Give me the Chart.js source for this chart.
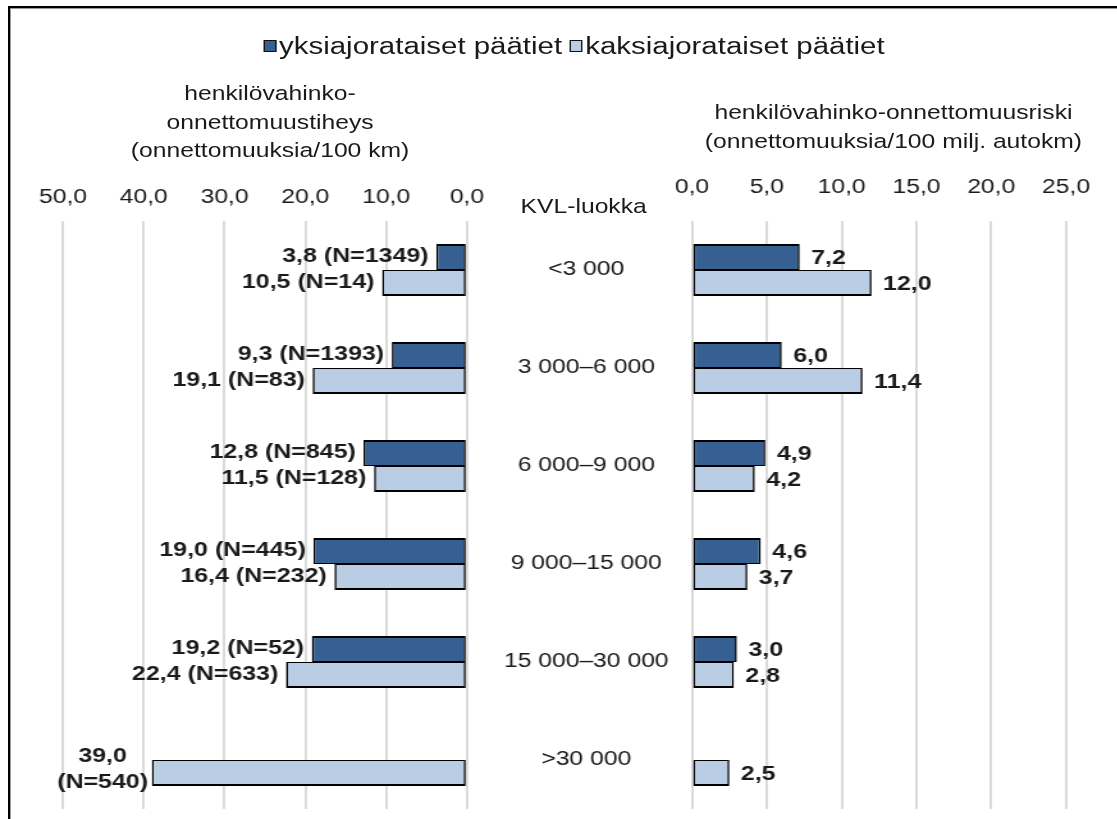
<!DOCTYPE html>
<html lang="fi">
<head>
<meta charset="utf-8">
<title>Henkilövahinko-onnettomuudet KVL-luokittain</title>
<script src="https://cdn.jsdelivr.net/npm/chart.js@4.4.1/dist/chart.umd.min.js"></script>
<style>
  html, body { margin: 0; padding: 0; background: #fff; }
  body {
    width: 1117px; height: 819px; overflow: hidden; position: relative;
    font-family: "Liberation Sans", Arial, sans-serif; color: #1a1a1a;
  }
  #frame {
    position: absolute; left: 8px; top: 6px; width: 1107px; height: 900px;
    border-top: 2px solid #000; border-left: 2px solid #000; border-right: 1px solid #8c8c8c;
    box-shadow: inset 1px 1px 0 #9a9a9a;
  }
  /* the whole figure is laid out on a 873px wide stage and widened horizontally */
  #stage {
    position: absolute; left: 0; top: 0; width: 873px; height: 819px;
    transform: scaleX(1.28); transform-origin: 0 0;
  }
  #stage canvas { position: absolute; top: 0; }
  #cLeft { left: 0; }
  #cRight { left: 380px; }
  .legend {
    position: absolute; left: 206px; top: 32px; display: flex; align-items: center;
    font-size: 23px; line-height: 28px; white-space: nowrap;
  }
  .sw { display: inline-block; width: 7.5px; height: 10px; border: 1.5px solid #111; margin-right: 2.5px; }
  .sw.dark { background: #376092; }
  .sw.light { background: #b9cde5; margin-left: 6px; }
  .ttl { position: absolute; text-align: center; font-size: 19.3px; line-height: 28.5px; white-space: nowrap; }
  #ttlLeft { left: 61px; width: 300px; top: 80px; }
  #ttlRight { left: 518px; width: 360px; top: 99px; }
  #kvl { position: absolute; left: 406px; width: 100px; text-align: center; top: 193px; font-size: 19.3px; line-height: 28px; }
</style>
</head>
<body>
<div id="frame"></div>
<div id="stage">
  <div class="legend">
    <span class="sw dark"></span><span>yksiajorataiset päätiet</span>
    <span class="sw light"></span><span>kaksiajorataiset päätiet</span>
  </div>
  <div class="ttl" id="ttlLeft">henkilövahinko-<br>onnettomuustiheys<br>(onnettomuuksia/100 km)</div>
  <div class="ttl" id="ttlRight">henkilövahinko-onnettomuusriski<br>(onnettomuuksia/100 milj. autokm)</div>
  <div id="kvl">KVL-luokka</div>
  <canvas id="cLeft" width="380" height="819"></canvas>
  <canvas id="cRight" width="493" height="819"></canvas>
</div>
<script>
// KVL classes (average daily traffic)
const categories = ['<3 000', '3 000–6 000', '6 000–9 000', '9 000–15 000', '15 000–30 000', '>30 000'];
const seriesNames = ['yksiajorataiset päätiet', 'kaksiajorataiset päätiet'];

// accident density (accidents / 100 km)
const densitySingle = [3.8, 9.3, 12.8, 19.0, 19.2, null];
const densityDual   = [10.5, 19.1, 11.5, 16.4, 22.4, 39.0];
// number of accidents behind each density value
const countSingle = [1349, 1393, 845, 445, 52, null];
const countDual   = [14, 83, 128, 232, 633, 540];

// accident risk (accidents / 100 million vehicle-km)
const riskSingle = [7.2, 6.0, 4.9, 4.6, 3.0, null];
const riskDual   = [12.0, 11.4, 4.2, 3.7, 2.8, 2.5];

// axis ticks
const densityTicks = [0, 10, 20, 30, 40, 50];
const riskTicks = [0, 5, 10, 15, 20, 25];

const FONT = '"Liberation Sans", Arial, sans-serif';
const DARK = '#376092';
const LIGHT = '#b9cde5';
const INK = '#1a1a1a';

Chart.defaults.font.family = FONT;
Chart.defaults.color = INK;

const fmt = v => v.toFixed(1).replace('.', ',');

// value labels next to the bar ends
const barLabels = {
  id: 'barLabels',
  afterDatasetsDraw(chart, args, opts) {
    const ctx = chart.ctx;
    ctx.save();
    ctx.font = 'bold 19.5px ' + FONT;
    ctx.fillStyle = INK;
    ctx.textBaseline = 'middle';
    chart.data.datasets.forEach((ds, di) => {
      const meta = chart.getDatasetMeta(di);
      meta.data.forEach((bar, i) => {
        const v = ds.data[i];
        if (v == null) return;
        const parts = opts.parts(di, i, v);
        if (opts.side === 'left') {
          const right = bar.x - 6;
          const text = parts.join(' ');
          const w = ctx.measureText(text).width;
          if (right - w < 12) {
            // not enough room: stack value and count
            const r2 = bar.x - 3;
            const mw = Math.max(...parts.map(p => ctx.measureText(p).width));
            ctx.textAlign = 'center';
            ctx.fillText(parts[0], r2 - mw / 2, bar.y - 16);
            ctx.fillText(parts[1], r2 - mw / 2, bar.y + 10);
          } else {
            ctx.textAlign = 'right';
            ctx.fillText(text, right, bar.y);
          }
        } else {
          ctx.textAlign = 'left';
          ctx.fillText(parts.join(' '), bar.x + 9, bar.y + 2);
        }
      });
    });
    ctx.restore();
  }
};

// KVL class names in the gap between the two panels
const classLabels = {
  id: 'classLabels',
  afterDraw(chart, args, opts) {
    if (!opts.show) return;
    const ctx = chart.ctx;
    const y = chart.scales.y;
    ctx.save();
    ctx.font = '19.3px ' + FONT;
    ctx.fillStyle = INK;
    ctx.textAlign = 'center';
    ctx.textBaseline = 'middle';
    categories.forEach((c, i) => ctx.fillText(c, opts.x, y.getPixelForValue(i)));
    ctx.restore();
  }
};

function barDataset(label, data, color, upper, edge) {
  return {
    label, data,
    backgroundColor: color,
    borderColor: '#000',
    borderWidth: upper ? { top: 2, bottom: 1, left: edge, right: edge } : { top: 1, bottom: 2, left: edge, right: edge },
    borderSkipped: false,
    categoryPercentage: 0.532,
    barPercentage: 1
  };
}

function xAxis(min, max, reverse, tickList, tickPad) {
  return {
    type: 'linear', position: 'top', min, max, reverse,
    afterBuildTicks: s => { s.ticks = tickList.map(v => ({ value: v })); },
    ticks: { callback: v => fmt(v), padding: tickPad, color: INK, font: { size: 19.3, lineHeight: 1.2 }, maxRotation: 0 },
    grid: { color: '#d9d9d9', lineWidth: 1.9, drawTicks: false },
    border: { display: false }
  };
}

const common = {
  indexAxis: 'y',
  responsive: false,
  animation: false,
  events: [],
  plugins: { legend: { display: false }, tooltip: { enabled: false } }
};

new Chart(document.getElementById('cLeft'), {
  type: 'bar',
  data: {
    labels: categories,
    datasets: [
      barDataset(seriesNames[0], densitySingle, DARK, true, 1.6),
      barDataset(seriesNames[1], densityDual, LIGHT, false, 1.6)
    ]
  },
  options: {
    ...common,
    layout: { padding: { left: 49.2, right: 15.2, top: 175, bottom: 10 } },
    scales: {
      x: xAxis(0, 50, true, densityTicks, 11.4),
      y: { type: 'category', display: false }
    },
    plugins: {
      ...common.plugins,
      barLabels: {
        side: 'left',
        parts: (di, i, v) => [fmt(v), '(N=' + (di === 0 ? countSingle[i] : countDual[i]) + ')']
      },
      classLabels: { show: false }
    }
  },
  plugins: [barLabels, classLabels]
});

new Chart(document.getElementById('cRight'), {
  type: 'bar',
  data: {
    labels: categories,
    datasets: [
      barDataset(seriesNames[0], riskSingle, DARK, true, 1.6),
      barDataset(seriesNames[1], riskDual, LIGHT, false, 1.6)
    ]
  },
  options: {
    ...common,
    layout: { padding: { left: 160.6, right: 31.6, top: 155, bottom: 10 } },
    scales: {
      x: xAxis(0, 25, false, riskTicks, 21.4),
      y: { type: 'category', display: false }
    },
    plugins: {
      ...common.plugins,
      barLabels: { side: 'right', parts: (di, i, v) => [fmt(v)] },
      classLabels: { show: true, x: 78 }
    }
  },
  plugins: [barLabels, classLabels]
});
</script>
</body>
</html>
